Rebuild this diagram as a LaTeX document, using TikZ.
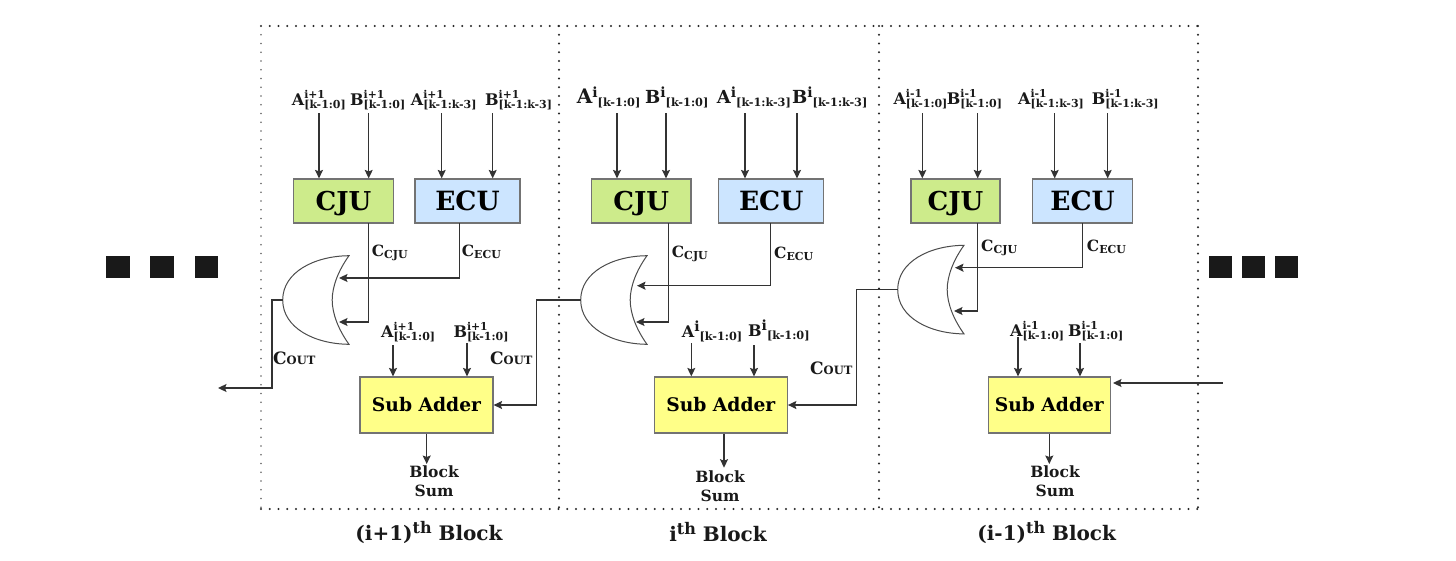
\documentclass[tikz,border=0pt]{standalone}
\usepackage{fontspec}
\setmainfont{DejaVu Serif}[BoldFont={DejaVu Serif Bold}]
\usetikzlibrary{arrows.meta}
\definecolor{wirec}{HTML}{333333}
\newcommand\fs[1]{\fontsize{#1}{#1}\selectfont}
\newcommand\stacklab[5]{{\fs{#1}#2}\makebox[0pt][l]{\raisebox{#5}{\fs{10.8}#3}}\raisebox{-3pt}{\fs{11}#4}}
\newcommand\seqlab[3]{{\fs{#1}#2\raisebox{6pt}{\fs{14}i}}\raisebox{-3pt}{\fs{11.3}#3}}
\newcommand\sclab[2]{{\fs{15.5}C}\raisebox{-2.5pt}{\fs{11}#2}}
\newcommand\coutlab{{\fs{17}C}{\fs{11.5}OUT}}
\newcommand\titlelab[2]{{\fs{20}#1\raisebox{7pt}{\fs{16}th} Block}}
\newcommand\orgate[3]{%
  \coordinate (#1) at (#2,#3);
  \begin{scope}[shift={(#2,#3)}]
    \draw[gatec] (66.3,-44.3) .. controls (32,-44) and (0,-28) .. (0,0)
      .. controls (0,28) and (32,44) .. (66.3,44.3)
      .. controls (56,30) and (49.5,14) .. (49.5,0)
      .. controls (49.5,-14) and (56,-30) .. (66.3,-44.3) -- cycle;
  \end{scope}}
% name, left x, baseline y, label, arrow x, arrow start y, target node
\newcommand\inp[7]{%
  \node[lab] (#1) at (#2,#3) {#4};
  \coordinate (#1s) at (#5,#6);
  \draw[arr] (#1s) -- (#1s |- #7.north);}
\tikzset{
  lab/.style={anchor=base west,inner sep=0pt,font=\bfseries,text=black!90},
  txt/.style={inner sep=0pt,font=\bfseries,text=black!90},
  wire/.style={draw=wirec,line width=1.2pt},
  arr/.style={wire,-{Stealth[length=8.5pt,width=8pt,inset=1.5pt]}},
  gatec/.style={draw=black!70,line width=1pt,fill=white},
  boxc/.style={draw=black!55,line width=1.2pt,inner sep=0pt,font=\bfseries},
  cjubox/.style={boxc,fill=cjuf,minimum height=44pt,font=\bfseries\fs{26},text height=18.5pt,text depth=0pt},
  ecubox/.style={boxc,fill=ecuf,minimum height=44pt,font=\bfseries\fs{26.5},text height=18.5pt,text depth=0pt},
  subbox/.style={boxc,fill=subf,minimum height=56pt,font=\bfseries\fs{18.7}},
  dots/.style={draw=black!85,line width=2.1pt,line cap=round,dash pattern=on 0pt off 8.75pt},
  blk/.style={fill=black!90,inner sep=0pt,minimum width=23.5pt,minimum height=22pt},
}
\definecolor{cjuf}{HTML}{CDEB8B}
\definecolor{ecuf}{HTML}{CCE5FF}
\definecolor{subf}{HTML}{FFFF88}
\begin{document}
\begin{tikzpicture}[x=1pt,y=-1pt]
\useasboundingbox (0,0) rectangle (1456,560);
\fill[white] (0,0) rectangle (1456,560);
% block frames
\coordinate (fa) at (261,26); \coordinate (fb) at (1198,26);
\coordinate (fc) at (1198,509); \coordinate (fd) at (261,509);
\coordinate (d1t) at (559,26); \coordinate (d1b) at (559,509);
\coordinate (d2t) at (879,26); \coordinate (d2b) at (879,509);
\draw[dots] (fa) -- (fb);
\draw[dots] (fb) -- (fc);
\draw[dots] (fd) -- (fc);
\draw[dots,draw=black!60,line width=1.6pt] (fa) -- (fd);
\draw[dots] (d1t) -- (d1b);
\draw[dots] (d2t) -- (d2b);
% squares
\node[blk] (l1) at (118,267) {};
\node[blk] (l2) at (162,267) {};
\node[blk] (l3) at (206.5,267) {};
\node[blk] (r1) at (1220.5,267) {};
\node[blk] (r2) at (1253.5,267) {};
\node[blk] (r3) at (1286.5,267) {};
% boxes
\node[cjubox,minimum width=100pt] (cju1) at (343.5,201) {CJU};
\node[ecubox,minimum width=105pt] (ecu1) at (467.5,201) {ECU};
\node[subbox,minimum width=133pt] (sub1) at (426.5,405) {Sub Adder};
\node[cjubox,minimum width=99.5pt] (cju2) at (641.3,201) {CJU};
\node[ecubox,minimum width=105pt] (ecu2) at (771.2,201) {ECU};
\node[subbox,minimum width=133pt] (sub2) at (720.8,405) {Sub Adder};
\node[cjubox,minimum width=89pt] (cju3) at (955.5,201) {CJU};
\node[ecubox,minimum width=99.6pt] (ecu3) at (1082.5,201) {ECU};
\node[subbox,minimum width=122pt] (sub3) at (1049.3,405) {Sub Adder};
% gates
\orgate{g1}{282.7}{300}
\orgate{g2}{580.7}{300}
\orgate{g3}{897.7}{289.6}
% top inputs, block 1
\inp{a1}{291.7}{105}{\stacklab{16}{A}{i+1}{[k-1:0]}{7pt}}{319}{113}{cju1}
\inp{b1}{350}{105}{\stacklab{16}{B}{i+1}{[k-1:0]}{7pt}}{368.7}{113}{cju1}
\inp{c1}{410.7}{105}{\stacklab{16}{A}{i+1}{[k-1:k-3]}{7pt}}{441.7}{113}{ecu1}
\inp{e1}{485}{105}{\stacklab{16}{B}{i+1}{[k-1:k-3]}{7pt}}{492.7}{113}{ecu1}
% top inputs, block 2
\inp{a2}{576.7}{103}{\seqlab{20}{A}{[k-1:0]}}{617}{113}{cju2}
\inp{b2}{645}{103}{\seqlab{18}{B}{[k-1:0]}}{666}{113}{cju2}
\inp{c2}{716.7}{103}{\seqlab{18}{A}{[k-1:k-3]}}{745}{113}{ecu2}
\inp{e2}{792}{103}{\seqlab{18}{B}{[k-1:k-3]}}{797}{113}{ecu2}
% top inputs, block 3
\inp{a3}{893.3}{104}{\stacklab{16}{A}{i-1}{[k-1:0]}{7pt}}{922.3}{113}{cju3}
\inp{b3}{946.7}{104}{\stacklab{16}{B}{i-1}{[k-1:0]}{7pt}}{977.7}{113}{cju3}
\inp{c3}{1018}{104}{\stacklab{16}{A}{i-1}{[k-1:k-3]}{7pt}}{1054.7}{113}{ecu3}
\inp{e3}{1091.7}{104}{\stacklab{16}{B}{i-1}{[k-1:k-3]}{7pt}}{1107.7}{113}{ecu3}
% adder inputs
\inp{p1}{381}{337}{\stacklab{16}{A}{i+1}{[k-1:0]}{7pt}}{393}{345}{sub1}
\inp{q1}{453.3}{337}{\stacklab{16}{B}{i+1}{[k-1:0]}{7pt}}{467}{343}{sub1}
\inp{p2}{681.7}{337}{\seqlab{16}{A}{[k-1:0]}}{691.3}{343}{sub2}
\inp{q2}{748}{336}{\seqlab{16}{B}{[k-1:0]}}{754}{345}{sub2}
\inp{p3}{1010}{336}{\stacklab{16}{A}{i-1}{[k-1:0]}{7pt}}{1018}{337}{sub3}
\inp{q3}{1068}{336}{\stacklab{16}{B}{i-1}{[k-1:0]}{7pt}}{1080}{343}{sub3}
% carry pins
\coordinate (g1a) at (339,278); \coordinate (g1b) at (339,322);
\coordinate (g2a) at (637,285.7); \coordinate (g2b) at (636,322);
\coordinate (g3a) at (955,267.7); \coordinate (g3b) at (954,311);
\coordinate (cj1) at (368.7,223); \coordinate (ec1) at (459.3,223);
\coordinate (cj2) at (668.7,223); \coordinate (ec2) at (770.7,223);
\coordinate (cj3) at (977.7,223); \coordinate (ec3) at (1082.3,223);
\draw[arr] (cj1) |- (g1b);
\draw[arr] (ec1) |- (g1a);
\draw[arr] (cj2) |- (g2b);
\draw[arr] (ec2) |- (g2a);
\draw[arr] (cj3) |- (g3b);
\draw[arr] (ec3) |- (g3a);
% carry chain
\coordinate (w1) at (272,388); \coordinate (ex) at (218,388);
\coordinate (w2) at (536.7,405); \coordinate (w3) at (856.7,405);
\coordinate (cin) at (1222.7,383); \coordinate (cto) at (1113,383);
\draw[arr] (g1) -| (w1) -- (ex);
\draw[arr] (g2) -| (w2) -- (sub1.east);
\draw[arr] (g3) -| (w3) -- (sub2.east);
\draw[arr] (cin) -- (cto);
% sums
\node[txt,align=center,font=\bfseries\fs{15.5}] (s1) at (434,481) {Block\\[3pt]Sum};
\node[txt,align=center,font=\bfseries\fs{15.5}] (s2) at (720,486) {Block\\[3pt]Sum};
\node[txt,align=center,font=\bfseries\fs{15.5}] (s3) at (1055,481) {Block\\[3pt]Sum};
\coordinate (so1) at (426.7,464); \coordinate (so2) at (724,467.7); \coordinate (so3) at (1049.3,464);
\draw[arr] (so1 |- sub1.south) -- (so1);
\draw[arr] (so2 |- sub2.south) -- (so2);
\draw[arr] (so3 |- sub3.south) -- (so3);
% signal labels
\node[lab] (l1a) at (371.7,256) {\sclab{C}{CJU}};
\node[lab] (l1b) at (461.7,256) {\sclab{C}{ECU}};
\node[lab] (l2a) at (671.7,257) {\sclab{C}{CJU}};
\node[lab] (l2b) at (774,258) {\sclab{C}{ECU}};
\node[lab] (l3a) at (981,251) {\sclab{C}{CJU}};
\node[lab] (l3b) at (1086.7,251) {\sclab{C}{ECU}};
\node[lab] (o1) at (273,364) {\coutlab};
\node[lab] (o2) at (490,364) {\coutlab};
\node[lab] (o3) at (810,374) {\coutlab};
% titles
\node[txt] (t1) at (429,532) {\titlelab{(i+1)}{}};
\node[txt] (t2) at (718,532) {\titlelab{i}{}};
\node[txt] (t3) at (1046.7,532) {\titlelab{(i-1)}{}};
\end{tikzpicture}
\end{document}
